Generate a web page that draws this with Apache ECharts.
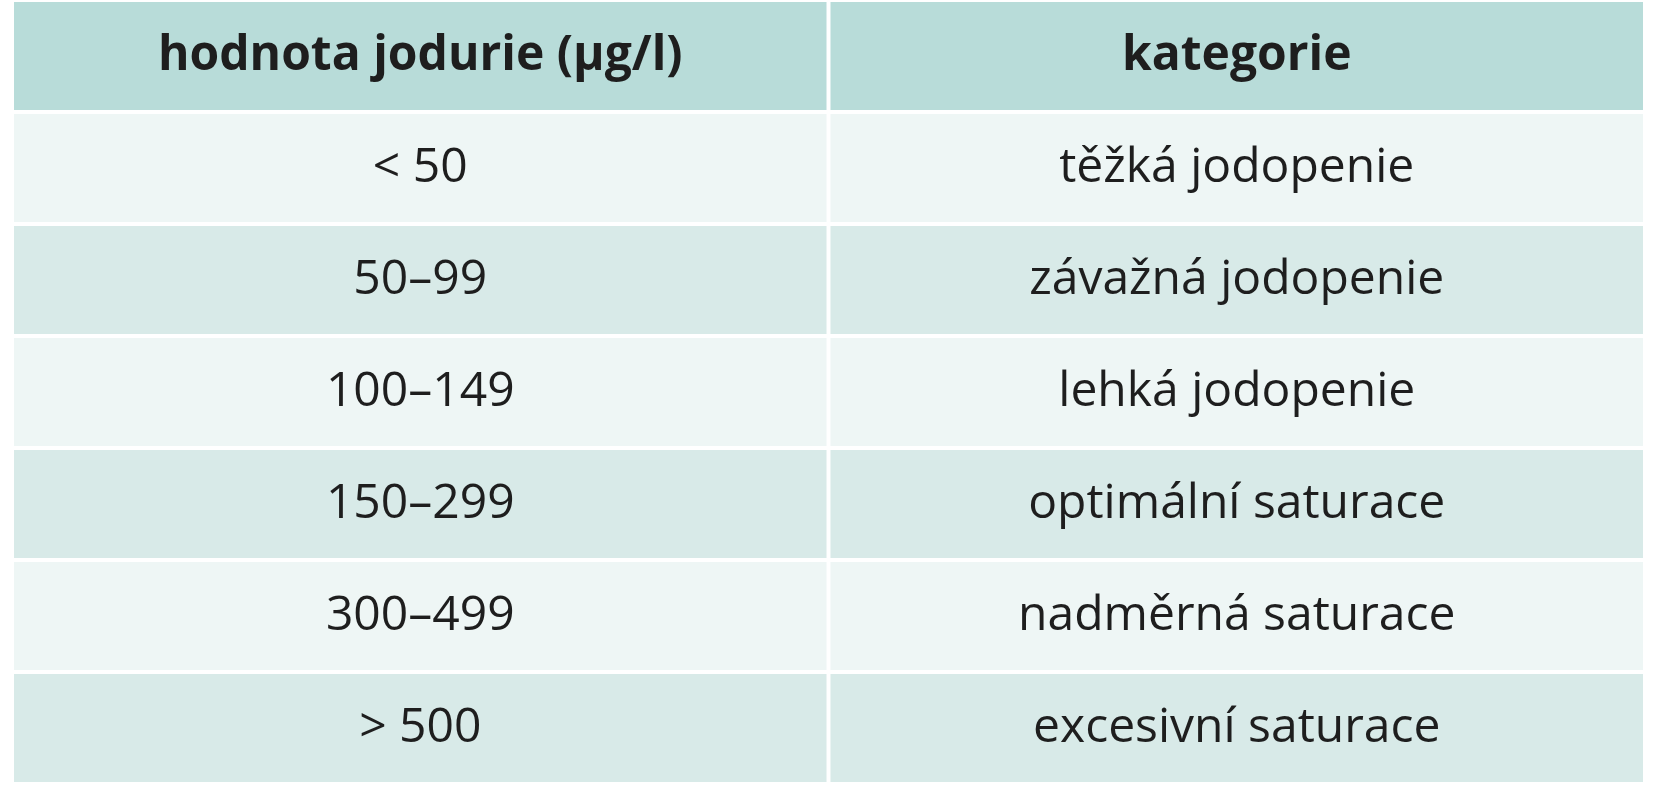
<!DOCTYPE html>
<html>
<head>
<meta charset="utf-8">
<script src="https://cdn.jsdelivr.net/npm/echarts@6/dist/echarts.min.js"></script>
<style>
html,body{margin:0;padding:0;background:#fff;}
#tableChart{width:1662px;height:800px;}
</style>
</head>
<body>
<div id="tableChart"></div>
<script>
// table content
var columns = ['hodnota jodurie (µg/l)', 'kategorie'];
var ranges = ['< 50', '50–99', '100–149', '150–299', '300–499', '> 500'];
var categories = ['těžká jodopenie', 'závažná jodopenie', 'lehká jodopenie', 'optimální saturace', 'nadměrná saturace', 'excesivní saturace'];

var rowNames = ['head'].concat(ranges);
var cells = [];
for (var c = 0; c < columns.length; c++) {
    cells.push([c, 0, columns[c]]);
}
for (var i = 0; i < ranges.length; i++) {
    cells.push([0, i + 1, ranges[i]]);
    cells.push([1, i + 1, categories[i]]);
}

var tableChart = echarts.init(document.getElementById('tableChart'));

tableChart.setOption({
    animation: false,
    grid: { left: 12, right: 17, top: 0, bottom: 16 },
    xAxis: { type: 'category', data: columns, show: false },
    yAxis: { type: 'category', data: rowNames, inverse: true, show: false },
    series: [{
        type: 'custom',
        data: cells,
        renderItem: function (params, api) {
            var x = api.value(0), y = api.value(1);
            var pt = api.coord([x, y]);
            var size = api.size([1, 1]);
            var head = y === 0;
            var fill = head ? '#b8dcd9' : (y % 2 === 1 ? '#eef6f5' : '#d8eae8');
            return {
                type: 'group',
                children: [{
                    type: 'rect',
                    shape: {
                        x: pt[0] - size[0] / 2 + 2,
                        y: pt[1] - size[1] / 2 + 2,
                        width: size[0] - 4,
                        height: size[1] - 4
                    },
                    style: { fill: fill }
                }, {
                    type: 'text',
                    style: {
                        x: pt[0],
                        y: pt[1],
                        text: api.value(2),
                        align: 'center',
                        verticalAlign: 'middle',
                        fill: '#1e1e1e',
                        font: (head ? 'bold ' : '') + '48px "Open Sans", sans-serif'
                    }
                }]
            };
        }
    }]
});
</script>
</body>
</html>
